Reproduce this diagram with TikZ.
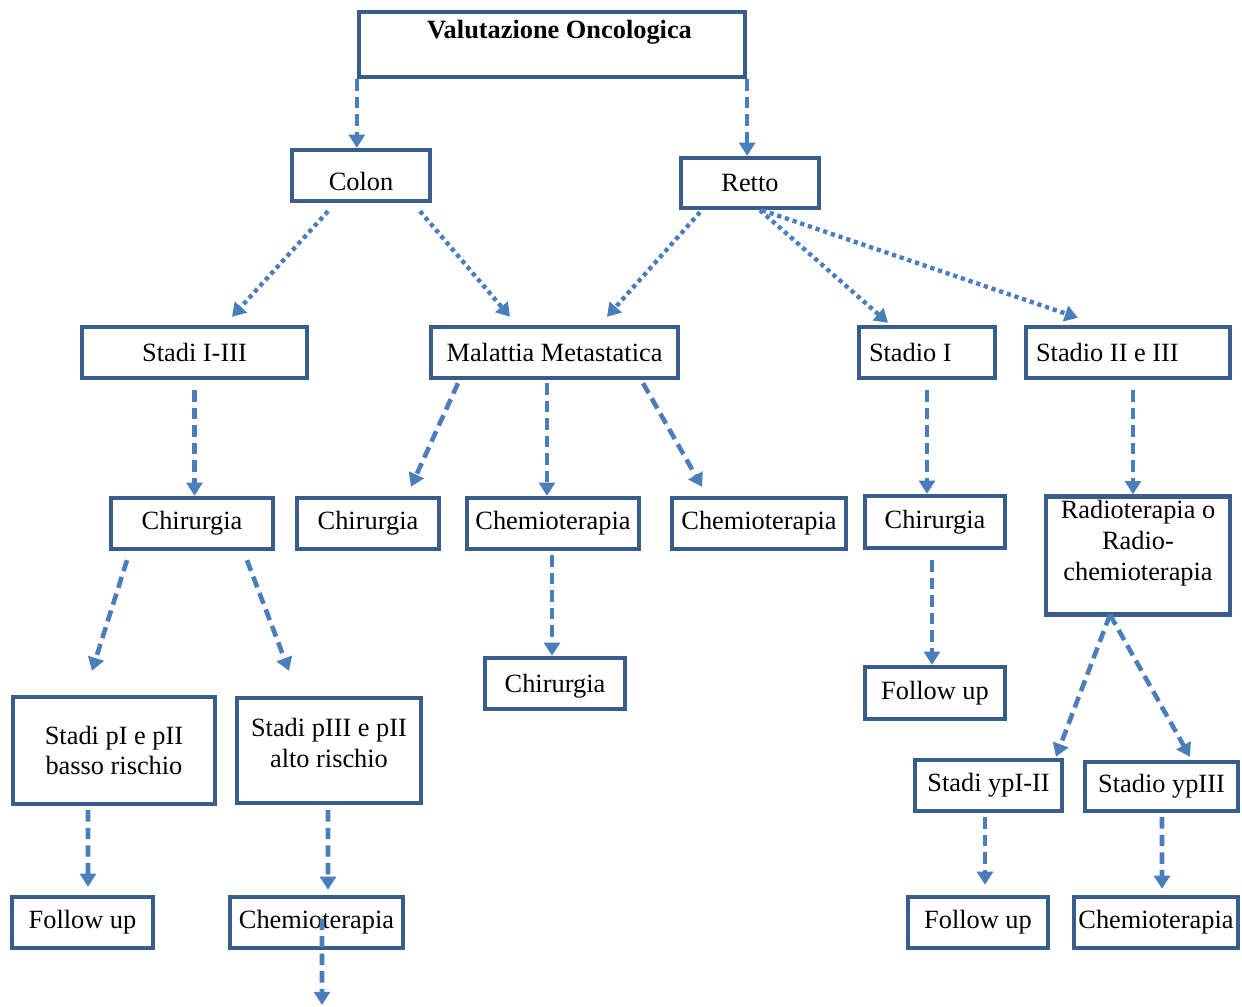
\documentclass[tikz,border=0pt]{standalone}
\usepackage{fontspec}
\setmainfont{Liberation Serif}
\usepackage{tikz}
\usetikzlibrary{arrows.meta,calc}

\definecolor{boxblue}{HTML}{385D8A}
\definecolor{arrowblue}{HTML}{4A7EBB}

\begin{document}
\begin{tikzpicture}[
    x=0.02cm, y=-0.02cm,
    box/.style={rectangle, draw=boxblue, line width=2.5pt, minimum height=1.02cm, inner sep=2pt, align=center, font=\fontsize{15}{17.6}\selectfont},
    leftbox/.style={box, align=flush left, inner xsep=0.2cm},
    arrow/.style={-{Triangle[length=7.5pt,width=9pt]}, draw=arrowblue, line width=2.6pt, dash pattern=on 6.5pt off 3.5pt},
    dotarrow/.style={-{Triangle[length=7.5pt,width=9pt]}, draw=arrowblue, line width=2.5pt, dash pattern=on 2.4pt off 2.2pt}
]
\useasboundingbox (0,0) rectangle (1242,1007);

% Top
\node[box, minimum width=7.72cm, minimum height=1.30cm] at (552,44.5) (val) {\hspace*{0.3cm}\textbf{Valutazione Oncologica}\\\mbox{}};

% Colon / Retto
\node[box, minimum width=2.76cm, text height=17pt] at (361,175.5) (colon) {Colon};
\node[box, minimum width=2.76cm, minimum height=1.00cm] at (750,183) (retto) {Retto};

% Second level
\node[box, minimum width=4.50cm] at (194.5,352.5) (stadi13) {Stadi I-III};
\node[box, minimum width=4.94cm] at (554.5,352.5) (meta) {Malattia Metastatica};
\node[leftbox, text width=2.32cm] at (927,352.5) (stadio1) {Stadio I};
\node[leftbox, text width=3.68cm] at (1128,352.5) (stadio23) {Stadio II e III};

% Therapies
\node[box, minimum width=3.24cm] at (192,523.5) (chirA) {Chirurgia};
\node[box, minimum width=2.84cm] at (368,523.5) (chirB) {Chirurgia};
\node[box, minimum width=3.44cm] at (553,523.5) (chemA) {Chemioterapia};
\node[box, minimum width=3.48cm] at (759,523.5) (chemB) {Chemioterapia};
\node[box, minimum width=2.80cm, minimum height=1.04cm] at (935,522) (chirC) {Chirurgia};
\node[box, minimum width=3.68cm, minimum height=2.34cm] at (1138,555.5) (radio) {Radioterapia o\\Radio-\\chemioterapia\\\mbox{}};

\node[box, minimum width=2.80cm, text height=14pt] at (555,683.5) (chirD) {Chirurgia};
\node[box, minimum width=2.80cm, minimum height=1.04cm] at (935,693) (follow1) {Follow up};

% Risk groups
\node[box, minimum width=4.04cm, minimum height=2.14cm] at (114,750.5) (pI) {Stadi pI e pII\\basso rischio};
\node[box, minimum width=3.68cm, minimum height=2.10cm, text depth=9pt] at (329,750.5) (pIII) {Stadi pIII e pII\\alto rischio};
\node[box, minimum width=2.94cm] at (988.5,785.5) (ypI) {Stadi ypI-II};
\node[box, minimum width=3.06cm, minimum height=0.98cm] at (1161.5,786.5) (ypIII) {Stadio ypIII};

% Bottom
\node[box, minimum width=2.82cm] at (82.5,922.5) (follow2) {Follow up};
\node[box, minimum width=3.46cm] at (316.5,922.5) (chemC) {Chemioterapia};
\node[box, minimum width=2.80cm] at (978,922.5) (follow3) {Follow up};
\node[box, minimum width=3.28cm] at (1156,922.5) (chemD) {Chemioterapia};
\coordinate (chemCend) at (322,1005);

% Arrows
\draw[arrow] (val.south west) -- (val.south west |- colon.north);
\draw[arrow] (val.south east) -- (val.south east |- retto.north);

\draw[dotarrow] ($(colon.south)+(-33,8)$) -- ($(stadi13.north)+(37.5,-8)$);
\draw[dotarrow] ($(colon.south)+(59,8)$) -- ($(meta.north)+(-44.5,-8)$);
\draw[dotarrow] ($(retto.south)+(-50,2)$) -- ($(meta.north)+(52.5,-8)$);
\draw[dotarrow] ($(retto.south)+(10,0)$) -- ($(stadio1.north)+(-39,-2)$);
\draw[dotarrow] ($(retto.south)+(12,0)$) -- ($(stadio23.north)+(-50,-7)$);

\draw[arrow] ($(stadi13.south)+(0,10)$) -- (stadi13.south |- chirA.north);
\draw[arrow] ($(meta.south)+(-96.5,3)$) -- ($(chirB.north)+(43,-9)$);
\draw[arrow] ($(meta.south)+(-7.5,3)$) -- ($(chemA.north)+(-6,0)$);
\draw[arrow] ($(meta.south)+(88.5,3)$) -- ($(chemB.north)+(-57,-9)$);
\draw[arrow] ($(stadio1.south)+(0,10)$) -- (stadio1.south |- chirC.north);
\draw[arrow] ($(stadio23.south)+(5,10)$) -- ($(radio.north)+(-5,0)$);

\draw[arrow] ($(chirA.south)+(-65,9)$) -- ($(pI.north)+(-22,-24)$);
\draw[arrow] ($(chirA.south)+(55,9)$) -- ($(pIII.north)+(-40,-25)$);
\draw[arrow] ($(chemA.south)+(-1,4)$) -- ($(chirD.north)+(-3,0)$);
\draw[arrow] ($(chirC.south)+(-3,10)$) -- ($(follow1.north)+(-3,0)$);
\draw[arrow] ($(radio.south)+(-28,-2)$) -- ($(ypI.north)+(67.5,-1)$);
\draw[arrow] ($(radio.south)+(-28,-2)$) -- ($(ypIII.north)+(28.5,-3)$);

\draw[arrow] ($(pI.south)+(-26,4)$) -- ($(follow2.north)+(5.5,-8)$);
\draw[arrow] ($(pIII.south)+(-1,5)$) -- ($(chemC.north)+(11.5,-5)$);
\draw[arrow] ($(chemC.center)+(5.5,-4)$) -- (chemCend);
\draw[arrow] ($(ypI.south)+(-3.5,4)$) -- ($(follow3.north)+(7,-10)$);
\draw[arrow] ($(ypIII.south)+(0.5,4)$) -- ($(chemD.north)+(6,-6)$);

\end{tikzpicture}
\end{document}
